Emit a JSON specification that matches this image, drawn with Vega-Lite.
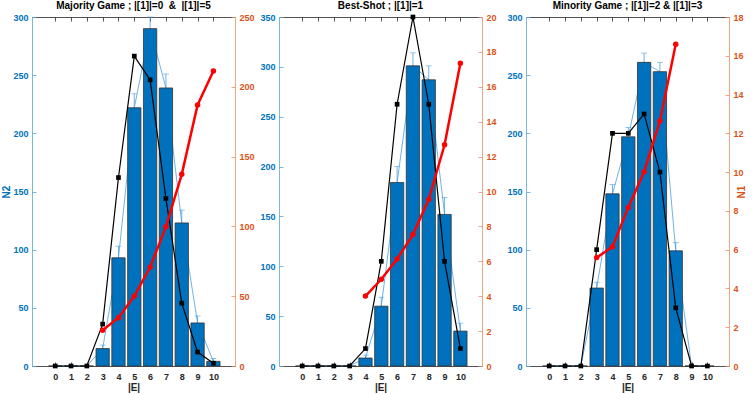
{
  "$schema": "https://vega.github.io/schema/vega-lite/v6.json",
  "background": "white",
  "padding": {"left": 1, "top": 1, "right": 1, "bottom": 1},
  "bounds": "flush",
  "spacing": 44,
  "config": {
    "view": {"stroke": null},
    "font": "Liberation Sans",
    "axis": {"labelFont": "Liberation Sans", "labelFontSize": 9, "labelFontWeight": "bold", "titleFont": "Liberation Sans", "titleFontSize": 10, "titleFontWeight": "bold", "grid": false, "tickSize": 4, "tickWidth": 0.8, "domainWidth": 0.8, "labelPadding": 4, "labelColor": "#262626", "domainColor": "#262626", "tickColor": "#262626", "titleColor": "#262626"},
    "title": {"font": "Liberation Sans", "fontSize": 10, "fontWeight": "bold", "color": "#000000", "offset": 2}
  },
  "datasets": {
    "hist": [
      {"g": "maj", "E": 0, "mean": 0, "lo": 0, "hi": 0},
      {"g": "maj", "E": 1, "mean": 0, "lo": 0, "hi": 0},
      {"g": "maj", "E": 2, "mean": 0, "lo": 0, "hi": 0},
      {"g": "maj", "E": 3, "mean": 15, "lo": 12, "hi": 18},
      {"g": "maj", "E": 4, "mean": 93, "lo": 83, "hi": 103},
      {"g": "maj", "E": 5, "mean": 222, "lo": 210, "hi": 234},
      {"g": "maj", "E": 6, "mean": 290, "lo": 280, "hi": 300},
      {"g": "maj", "E": 7, "mean": 239, "lo": 227, "hi": 251},
      {"g": "maj", "E": 8, "mean": 123, "lo": 112, "hi": 134},
      {"g": "maj", "E": 9, "mean": 37, "lo": 31, "hi": 43},
      {"g": "maj", "E": 10, "mean": 4, "lo": 1.5, "hi": 6.5},
      {"g": "best", "E": 0, "mean": 0, "lo": 0, "hi": 0},
      {"g": "best", "E": 1, "mean": 0, "lo": 0, "hi": 0},
      {"g": "best", "E": 2, "mean": 0, "lo": 0, "hi": 0},
      {"g": "best", "E": 3, "mean": 0, "lo": 0, "hi": 0},
      {"g": "best", "E": 4, "mean": 8, "lo": 5, "hi": 11},
      {"g": "best", "E": 5, "mean": 60, "lo": 51, "hi": 69},
      {"g": "best", "E": 6, "mean": 184, "lo": 168, "hi": 200},
      {"g": "best", "E": 7, "mean": 301, "lo": 288, "hi": 314},
      {"g": "best", "E": 8, "mean": 287, "lo": 273, "hi": 301},
      {"g": "best", "E": 9, "mean": 152, "lo": 135, "hi": 169},
      {"g": "best", "E": 10, "mean": 35, "lo": 27, "hi": 43},
      {"g": "min", "E": 0, "mean": 0, "lo": 0, "hi": 0},
      {"g": "min", "E": 1, "mean": 0, "lo": 0, "hi": 0},
      {"g": "min", "E": 2, "mean": 0, "lo": 0, "hi": 0},
      {"g": "min", "E": 3, "mean": 67, "lo": 62, "hi": 72},
      {"g": "min", "E": 4, "mean": 148, "lo": 140, "hi": 156},
      {"g": "min", "E": 5, "mean": 197, "lo": 189, "hi": 205},
      {"g": "min", "E": 6, "mean": 261, "lo": 253, "hi": 269},
      {"g": "min", "E": 7, "mean": 253, "lo": 245, "hi": 261},
      {"g": "min", "E": 8, "mean": 99, "lo": 92, "hi": 106},
      {"g": "min", "E": 9, "mean": 0, "lo": 0, "hi": 0},
      {"g": "min", "E": 10, "mean": 0, "lo": 0, "hi": 0}
    ],
    "n1": [
      {"g": "maj", "s": "black", "E": 0, "v": 0},
      {"g": "maj", "s": "black", "E": 1, "v": 0},
      {"g": "maj", "s": "black", "E": 2, "v": 0},
      {"g": "maj", "s": "black", "E": 3, "v": 30},
      {"g": "maj", "s": "black", "E": 4, "v": 135},
      {"g": "maj", "s": "black", "E": 5, "v": 222},
      {"g": "maj", "s": "black", "E": 6, "v": 205},
      {"g": "maj", "s": "black", "E": 7, "v": 120},
      {"g": "maj", "s": "black", "E": 8, "v": 45},
      {"g": "maj", "s": "black", "E": 9, "v": 10},
      {"g": "maj", "s": "black", "E": 10, "v": 2},
      {"g": "maj", "s": "red", "E": 3, "v": 25.6},
      {"g": "maj", "s": "red", "E": 4, "v": 34.6},
      {"g": "maj", "s": "red", "E": 5, "v": 50.1},
      {"g": "maj", "s": "red", "E": 6, "v": 70.7},
      {"g": "maj", "s": "red", "E": 7, "v": 99.8},
      {"g": "maj", "s": "red", "E": 8, "v": 137.3},
      {"g": "maj", "s": "red", "E": 9, "v": 187},
      {"g": "maj", "s": "red", "E": 10, "v": 211.3},
      {"g": "best", "s": "black", "E": 0, "v": 0},
      {"g": "best", "s": "black", "E": 1, "v": 0},
      {"g": "best", "s": "black", "E": 2, "v": 0},
      {"g": "best", "s": "black", "E": 3, "v": 0},
      {"g": "best", "s": "black", "E": 4, "v": 1},
      {"g": "best", "s": "black", "E": 5, "v": 6},
      {"g": "best", "s": "black", "E": 6, "v": 15},
      {"g": "best", "s": "black", "E": 7, "v": 20},
      {"g": "best", "s": "black", "E": 8, "v": 15},
      {"g": "best", "s": "black", "E": 9, "v": 6},
      {"g": "best", "s": "black", "E": 10, "v": 1},
      {"g": "best", "s": "red", "E": 4, "v": 4.01},
      {"g": "best", "s": "red", "E": 5, "v": 4.97},
      {"g": "best", "s": "red", "E": 6, "v": 6.13},
      {"g": "best", "s": "red", "E": 7, "v": 7.53},
      {"g": "best", "s": "red", "E": 8, "v": 9.55},
      {"g": "best", "s": "red", "E": 9, "v": 12.68},
      {"g": "best", "s": "red", "E": 10, "v": 17.35},
      {"g": "min", "s": "black", "E": 0, "v": 0},
      {"g": "min", "s": "black", "E": 1, "v": 0},
      {"g": "min", "s": "black", "E": 2, "v": 0},
      {"g": "min", "s": "black", "E": 3, "v": 6},
      {"g": "min", "s": "black", "E": 4, "v": 12},
      {"g": "min", "s": "black", "E": 5, "v": 12},
      {"g": "min", "s": "black", "E": 6, "v": 13},
      {"g": "min", "s": "black", "E": 7, "v": 10},
      {"g": "min", "s": "black", "E": 8, "v": 3},
      {"g": "min", "s": "black", "E": 9, "v": 0},
      {"g": "min", "s": "black", "E": 10, "v": 0},
      {"g": "min", "s": "red", "E": 3, "v": 5.59},
      {"g": "min", "s": "red", "E": 4, "v": 6.15},
      {"g": "min", "s": "red", "E": 5, "v": 8.18},
      {"g": "min", "s": "red", "E": 6, "v": 10.02},
      {"g": "min", "s": "red", "E": 7, "v": 12.64},
      {"g": "min", "s": "red", "E": 8, "v": 16.6}
    ]
  },
  "hconcat": [
    {
      "width": 203, "height": 349,
      "title": {"text": "Majority Game ; |[1]|=0 \u00a0&\u00a0 |[1]|=5"},
      "resolve": {"scale": {"y": "independent"}, "axis": {"x": "independent", "y": "independent"}},
      "encoding": {"x": {"field": "E", "type": "quantitative", "scale": {"domain": [-1.15, 11.05], "nice": false, "zero": false}}},
      "layer": [
        {"data": {"name": "hist"}, "transform": [{"filter": "datum.g === 'maj'"}],
         "mark": {"type": "line", "color": "#4a9ee0", "strokeWidth": 0.8},
         "encoding": {
           "x": {"field": "E", "type": "quantitative", "axis": {"orient": "bottom", "values": [0,1,2,3,4,5,6,7,8,9,10], "ticks": false, "title": "|E|", "titlePadding": 1, "labelPadding": 6}},
           "y": {"field": "mean", "type": "quantitative", "scale": {"domain": [0, 300], "nice": false}, "axis": {"orient": "left", "values": [0,50,100,150,200,250,300], "ticks": false, "title": "N2", "titleColor": "#0072BD", "labelColor": "#0072BD", "domainColor": "#5aa5dc", "titlePadding": 1}}}},
        {"data": {"name": "hist"}, "transform": [{"filter": "datum.g === 'maj'"}],
         "mark": {"type": "rule", "color": "#4a9ee0", "strokeWidth": 0.8},
         "encoding": {
           "x": {"field": "E", "type": "quantitative", "axis": {"orient": "bottom", "offset": -4, "values": [0,1,2,3,4,5,6,7,8,9,10], "domain": false, "labels": false, "title": null}},
           "y": {"field": "lo", "type": "quantitative", "scale": {"domain": [0, 300], "nice": false}, "axis": {"orient": "left", "offset": -4, "values": [0,50,100,150,200,250,300], "domain": false, "labels": false, "title": null, "tickColor": "#5aa5dc"}},
           "y2": {"field": "hi"}}},
        {"data": {"name": "hist"}, "transform": [{"filter": "datum.g === 'maj'"}],
         "mark": {"type": "tick", "orient": "horizontal", "color": "#4a9ee0", "size": 6, "thickness": 0.8},
         "encoding": {
           "x": {"field": "E", "type": "quantitative", "axis": {"orient": "top", "values": [0,1,2,3,4,5,6,7,8,9,10], "ticks": false, "labels": false, "title": null}},
           "y": {"field": "hi", "type": "quantitative", "scale": {"domain": [0, 300], "nice": false}, "axis": null}}},
        {"data": {"name": "hist"}, "transform": [{"filter": "datum.g === 'maj'"}],
         "mark": {"type": "bar", "color": "#0072BD", "stroke": "#333333", "strokeWidth": 0.8, "size": 13.3},
         "encoding": {
           "x": {"field": "E", "type": "quantitative", "axis": {"orient": "top", "offset": -4, "values": [0,1,2,3,4,5,6,7,8,9,10], "domain": false, "labels": false, "title": null}},
           "y": {"field": "mean", "type": "quantitative", "scale": {"domain": [0, 300], "nice": false}, "axis": null}}},
        {"data": {"name": "n1"}, "transform": [{"filter": "datum.g === 'maj' && datum.s === 'black'"}],
         "mark": {"type": "line", "color": "#000000", "strokeWidth": 1.2, "point": {"shape": "square", "filled": true, "size": 22, "color": "#000000"}},
         "encoding": {
           "x": {"field": "E", "type": "quantitative", "axis": null},
           "y": {"field": "v", "type": "quantitative", "scale": {"domain": [0, 250], "nice": false}, "axis": {"orient": "right", "values": [0,50,100,150,200,250], "ticks": false, "title": null, "labelColor": "#D95319", "domainColor": "#e8906a"}}}},
        {"data": {"name": "n1"}, "transform": [{"filter": "datum.g === 'maj' && datum.s === 'red'"}],
         "mark": {"type": "line", "color": "#ff0000", "strokeWidth": 2.5, "point": {"shape": "circle", "filled": true, "size": 30, "color": "#ff0000"}},
         "encoding": {
           "x": {"field": "E", "type": "quantitative", "axis": null},
           "y": {"field": "v", "type": "quantitative", "scale": {"domain": [0, 250], "nice": false}, "axis": {"orient": "right", "offset": -4, "values": [0,50,100,150,200,250], "domain": false, "labels": false, "title": null, "tickColor": "#e8906a"}}}}
      ]
    },
    {
      "width": 203, "height": 349,
      "title": {"text": "Best-Shot ; |[1]|=1"},
      "resolve": {"scale": {"y": "independent"}, "axis": {"x": "independent", "y": "independent"}},
      "encoding": {"x": {"field": "E", "type": "quantitative", "scale": {"domain": [-1.15, 11.05], "nice": false, "zero": false}}},
      "layer": [
        {"data": {"name": "hist"}, "transform": [{"filter": "datum.g === 'best'"}],
         "mark": {"type": "line", "color": "#4a9ee0", "strokeWidth": 0.8},
         "encoding": {
           "x": {"field": "E", "type": "quantitative", "axis": {"orient": "bottom", "values": [0,1,2,3,4,5,6,7,8,9,10], "ticks": false, "title": "|E|", "titlePadding": 1, "labelPadding": 6}},
           "y": {"field": "mean", "type": "quantitative", "scale": {"domain": [0, 350], "nice": false}, "axis": {"orient": "left", "values": [0,50,100,150,200,250,300,350], "ticks": false, "title": null, "labelColor": "#0072BD", "domainColor": "#5aa5dc"}}}},
        {"data": {"name": "hist"}, "transform": [{"filter": "datum.g === 'best'"}],
         "mark": {"type": "rule", "color": "#4a9ee0", "strokeWidth": 0.8},
         "encoding": {
           "x": {"field": "E", "type": "quantitative", "axis": {"orient": "bottom", "offset": -4, "values": [0,1,2,3,4,5,6,7,8,9,10], "domain": false, "labels": false, "title": null}},
           "y": {"field": "lo", "type": "quantitative", "scale": {"domain": [0, 350], "nice": false}, "axis": {"orient": "left", "offset": -4, "values": [0,50,100,150,200,250,300,350], "domain": false, "labels": false, "title": null, "tickColor": "#5aa5dc"}},
           "y2": {"field": "hi"}}},
        {"data": {"name": "hist"}, "transform": [{"filter": "datum.g === 'best'"}],
         "mark": {"type": "tick", "orient": "horizontal", "color": "#4a9ee0", "size": 6, "thickness": 0.8},
         "encoding": {
           "x": {"field": "E", "type": "quantitative", "axis": {"orient": "top", "values": [0,1,2,3,4,5,6,7,8,9,10], "ticks": false, "labels": false, "title": null}},
           "y": {"field": "hi", "type": "quantitative", "scale": {"domain": [0, 350], "nice": false}, "axis": null}}},
        {"data": {"name": "hist"}, "transform": [{"filter": "datum.g === 'best'"}],
         "mark": {"type": "bar", "color": "#0072BD", "stroke": "#333333", "strokeWidth": 0.8, "size": 13.3},
         "encoding": {
           "x": {"field": "E", "type": "quantitative", "axis": {"orient": "top", "offset": -4, "values": [0,1,2,3,4,5,6,7,8,9,10], "domain": false, "labels": false, "title": null}},
           "y": {"field": "mean", "type": "quantitative", "scale": {"domain": [0, 350], "nice": false}, "axis": null}}},
        {"data": {"name": "n1"}, "transform": [{"filter": "datum.g === 'best' && datum.s === 'black'"}],
         "mark": {"type": "line", "color": "#000000", "strokeWidth": 1.2, "point": {"shape": "square", "filled": true, "size": 22, "color": "#000000"}},
         "encoding": {
           "x": {"field": "E", "type": "quantitative", "axis": null},
           "y": {"field": "v", "type": "quantitative", "scale": {"domain": [0, 20], "nice": false}, "axis": {"orient": "right", "values": [0,2,4,6,8,10,12,14,16,18,20], "ticks": false, "title": null, "labelColor": "#D95319", "domainColor": "#e8906a"}}}},
        {"data": {"name": "n1"}, "transform": [{"filter": "datum.g === 'best' && datum.s === 'red'"}],
         "mark": {"type": "line", "color": "#ff0000", "strokeWidth": 2.5, "point": {"shape": "circle", "filled": true, "size": 30, "color": "#ff0000"}},
         "encoding": {
           "x": {"field": "E", "type": "quantitative", "axis": null},
           "y": {"field": "v", "type": "quantitative", "scale": {"domain": [0, 20], "nice": false}, "axis": {"orient": "right", "offset": -4, "values": [0,2,4,6,8,10,12,14,16,18,20], "domain": false, "labels": false, "title": null, "tickColor": "#e8906a"}}}}
      ]
    },
    {
      "width": 203, "height": 349,
      "title": {"text": "Minority Game ; |[1]|=2 & |[1]|=3"},
      "resolve": {"scale": {"y": "independent"}, "axis": {"x": "independent", "y": "independent"}},
      "encoding": {"x": {"field": "E", "type": "quantitative", "scale": {"domain": [-1.15, 11.05], "nice": false, "zero": false}}},
      "layer": [
        {"data": {"name": "hist"}, "transform": [{"filter": "datum.g === 'min'"}],
         "mark": {"type": "line", "color": "#4a9ee0", "strokeWidth": 0.8},
         "encoding": {
           "x": {"field": "E", "type": "quantitative", "axis": {"orient": "bottom", "values": [0,1,2,3,4,5,6,7,8,9,10], "ticks": false, "title": "|E|", "titlePadding": 1, "labelPadding": 6}},
           "y": {"field": "mean", "type": "quantitative", "scale": {"domain": [0, 300], "nice": false}, "axis": {"orient": "left", "values": [0,50,100,150,200,250,300], "ticks": false, "title": null, "labelColor": "#0072BD", "domainColor": "#5aa5dc"}}}},
        {"data": {"name": "hist"}, "transform": [{"filter": "datum.g === 'min'"}],
         "mark": {"type": "rule", "color": "#4a9ee0", "strokeWidth": 0.8},
         "encoding": {
           "x": {"field": "E", "type": "quantitative", "axis": {"orient": "bottom", "offset": -4, "values": [0,1,2,3,4,5,6,7,8,9,10], "domain": false, "labels": false, "title": null}},
           "y": {"field": "lo", "type": "quantitative", "scale": {"domain": [0, 300], "nice": false}, "axis": {"orient": "left", "offset": -4, "values": [0,50,100,150,200,250,300], "domain": false, "labels": false, "title": null, "tickColor": "#5aa5dc"}},
           "y2": {"field": "hi"}}},
        {"data": {"name": "hist"}, "transform": [{"filter": "datum.g === 'min'"}],
         "mark": {"type": "tick", "orient": "horizontal", "color": "#4a9ee0", "size": 6, "thickness": 0.8},
         "encoding": {
           "x": {"field": "E", "type": "quantitative", "axis": {"orient": "top", "values": [0,1,2,3,4,5,6,7,8,9,10], "ticks": false, "labels": false, "title": null}},
           "y": {"field": "hi", "type": "quantitative", "scale": {"domain": [0, 300], "nice": false}, "axis": null}}},
        {"data": {"name": "hist"}, "transform": [{"filter": "datum.g === 'min'"}],
         "mark": {"type": "bar", "color": "#0072BD", "stroke": "#333333", "strokeWidth": 0.8, "size": 13.3},
         "encoding": {
           "x": {"field": "E", "type": "quantitative", "axis": {"orient": "top", "offset": -4, "values": [0,1,2,3,4,5,6,7,8,9,10], "domain": false, "labels": false, "title": null}},
           "y": {"field": "mean", "type": "quantitative", "scale": {"domain": [0, 300], "nice": false}, "axis": null}}},
        {"data": {"name": "n1"}, "transform": [{"filter": "datum.g === 'min' && datum.s === 'black'"}],
         "mark": {"type": "line", "color": "#000000", "strokeWidth": 1.2, "point": {"shape": "square", "filled": true, "size": 22, "color": "#000000"}},
         "encoding": {
           "x": {"field": "E", "type": "quantitative", "axis": null},
           "y": {"field": "v", "type": "quantitative", "scale": {"domain": [0, 18], "nice": false}, "axis": {"orient": "right", "values": [0,2,4,6,8,10,12,14,16,18], "ticks": false, "title": "N1", "titleAngle": 270, "titleBaseline": "bottom", "titleColor": "#D95319", "labelColor": "#D95319", "domainColor": "#e8906a", "titlePadding": 3}}}},
        {"data": {"name": "n1"}, "transform": [{"filter": "datum.g === 'min' && datum.s === 'red'"}],
         "mark": {"type": "line", "color": "#ff0000", "strokeWidth": 2.5, "point": {"shape": "circle", "filled": true, "size": 30, "color": "#ff0000"}},
         "encoding": {
           "x": {"field": "E", "type": "quantitative", "axis": null},
           "y": {"field": "v", "type": "quantitative", "scale": {"domain": [0, 18], "nice": false}, "axis": {"orient": "right", "offset": -4, "values": [0,2,4,6,8,10,12,14,16,18], "domain": false, "labels": false, "title": null, "tickColor": "#e8906a"}}}}
      ]
    }
  ]
}
